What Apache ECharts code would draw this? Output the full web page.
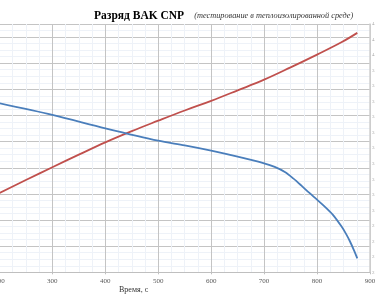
<!DOCTYPE html>
<html>
<head>
<meta charset="utf-8">
<script src="https://cdn.jsdelivr.net/npm/echarts@6/dist/echarts.min.js"></script>
<style>html,body{margin:0;padding:0;background:#fff}#c{width:375px;height:300px}</style>
</head>
<body>
<div id="c"></div>
<script>
const timeRed = [200, 250, 300, 350, 400, 450, 500, 550, 600, 650, 700, 750, 800, 846, 876];
const tempRed = [30.3, 35.3, 40.2, 45.0, 49.7, 54.0, 58.0, 61.9, 65.6, 69.6, 73.7, 78.4, 83.3, 88.0, 91.6];
const timeBlue = [200, 300, 400, 500, 550, 600, 650, 700, 720, 740, 755, 770, 785, 800, 815, 830, 846, 855, 862, 870, 876];
const voltBlue = [3.689, 3.614, 3.528, 3.448, 3.418, 3.384, 3.345, 3.302, 3.279, 3.245, 3.205, 3.160, 3.113, 3.068, 3.022, 2.970, 2.896, 2.846, 2.800, 2.740, 2.690];
const titleMain = 'Разряд BAK CNP';
const titleSub = '(тестирование в теплоизолированной среде)';
const xName = 'Время, с';

const chart = echarts.init(document.getElementById('c'), null, {renderer: 'canvas'});
const serif = '"Liberation Serif", "DejaVu Serif", serif';
chart.setOption({
  animation: false,
  backgroundColor: '#fff',
  title: {
    left: 89, top: 2,
    text: '{a|' + titleMain + '}  {b|' + titleSub + '}',
    textStyle: {
      fontWeight: 'normal',
      rich: {
        a: {fontFamily: serif, fontWeight: 'bold', fontSize: 11.5, color: '#000'},
        b: {fontFamily: serif, fontStyle: 'italic', fontWeight: 'normal', fontSize: 8.3, color: '#333'}
      }
    }
  },
  graphic: [{
    type: 'text', left: 119, top: 286,
    style: {text: xName, font: '8px ' + serif, fill: '#333'}
  }],
  grid: {left: -0.6, right: 5, top: 24, bottom: 27.7, outerBoundsMode: 'none', containLabel: false},
  xAxis: {
    type: 'value', min: 200, max: 900, interval: 100,
    axisLine: {show: true, lineStyle: {color: '#bfbfbf'}},
    axisTick: {show: true, length: 2, lineStyle: {color: '#bfbfbf'}},
    axisLabel: {fontFamily: serif, fontSize: 7, color: '#595959', margin: 5},
    splitLine: {show: true, lineStyle: {color: '#c4c4c4', width: 1}},
    minorTick: {show: false, splitNumber: 4},
    minorSplitLine: {show: true, lineStyle: {color: '#eef2f8', width: 1}}
  },
  yAxis: [{
    type: 'value', min: 0, max: 95, interval: 10,
    axisLine: {show: false}, axisTick: {show: false},
    axisLabel: {show: false},
    splitLine: {show: true, lineStyle: {color: '#c4c4c4', width: 1}},
    minorTick: {show: false, splitNumber: 4},
    minorSplitLine: {show: true, lineStyle: {color: '#eef2f8', width: 1}}
  }, {
    type: 'value', position: 'right', min: 2.6, max: 4.2, interval: 0.1,
    axisLine: {show: true, lineStyle: {color: '#d0d0d0', width: 1.5}},
    axisTick: {show: false},
    axisLabel: {fontFamily: serif, fontSize: 5, color: '#aaa', margin: 2,
      formatter: v => v.toFixed(1)},
    splitLine: {show: false}
  }],
  series: [{
    type: 'line', yAxisIndex: 0, smooth: 0.4, symbol: 'none',
    data: timeRed.map((t, i) => [t, tempRed[i]]),
    lineStyle: {color: '#c0504d', width: 1.8}
  }, {
    type: 'line', yAxisIndex: 1, smooth: 0.3, symbol: 'none',
    data: timeBlue.map((t, i) => [t, voltBlue[i]]),
    lineStyle: {color: '#4a7ebb', width: 1.8}
  }]
});
</script>
</body>
</html>
